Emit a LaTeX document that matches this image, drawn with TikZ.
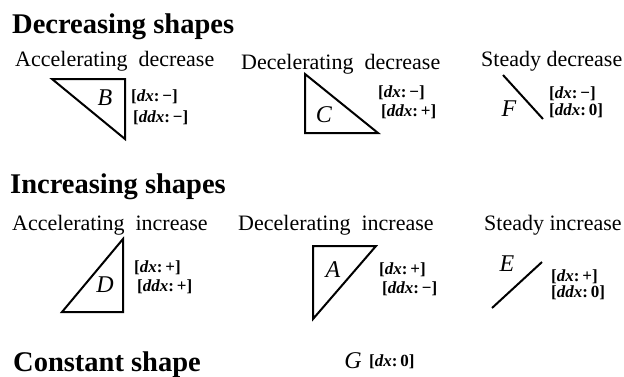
\documentclass[tikz,border=0pt]{standalone}
\usepackage{fontspec}
\setmainfont{Liberation Serif}
\usepackage{tikz}
\usetikzlibrary{positioning}

\newcommand{\dtag}[2]{\textbf{[\textit{#1}:\,#2]}}

\begin{document}
\begin{tikzpicture}[x=1pt, y=-1pt,
    heading/.style={anchor=base west, inner sep=0, font=\fontsize{28.5}{30}\selectfont\bfseries},
    subhead/.style={anchor=base west, inner sep=0, font=\fontsize{22}{24}\selectfont},
    letter/.style={inner sep=0, font=\fontsize{24}{26}\selectfont\itshape},
    tag/.style={anchor=west, inner sep=0, font=\fontsize{17}{19}\selectfont},
    outline/.style={line width=2pt, line join=miter}]
    \useasboundingbox (0,0) rectangle (624,376);

    % Decreasing shapes
    \node[heading] (dectitle) at (12, 33) {Decreasing shapes};
    \node[subhead] (accdec) at (15, 66) {Accelerating\ \ decrease};
    \node[subhead] (decdec) at (241, 69) {Decelerating\ \ decrease};
    \node[subhead] (stdec) at (481, 66) {Steady\ decrease};

    % B: accelerating decrease
    \draw[outline] (52, 79) -- (125, 79) -- (125, 139) -- cycle;
    \node[letter] (B) at (105, 98) {B};
    \node[tag] (Bdx) at (131, 97) {\dtag{dx}{−}};
    \node[tag] (Bddx) at (133, 118) {\dtag{ddx}{−}};

    % C: decelerating decrease
    \draw[outline] (305, 74) -- (378, 133) -- (305, 133) -- cycle;
    \node[letter] (C) at (324, 115) {C};
    \node[tag] (Cdx) at (378, 93) {\dtag{dx}{−}};
    \node[tag] (Cddx) at (381, 112) {\dtag{ddx}{+}};

    % F: steady decrease
    \draw[outline] (503, 75) -- (543, 119);
    \node[letter] (F) at (509, 109) {F};
    \node[tag] (Fdx) at (549, 94) {\dtag{dx}{−}};
    \node[tag] (Fddx) at (549, 111) {\dtag{ddx}{0}};

    % Increasing shapes
    \node[heading] (inctitle) at (10, 193) {Increasing shapes};
    \node[subhead] (accinc) at (12, 230) {Accelerating\ \ increase};
    \node[subhead] (decinc) at (238, 230) {Decelerating\ \ increase};
    \node[subhead] (stinc) at (484, 230) {Steady\ increase};

    % D: accelerating increase
    \draw[outline] (62, 312) -- (123, 312) -- (123, 239) -- cycle;
    \node[letter] (D) at (105, 285) {D};
    \node[tag] (Ddx) at (134, 268) {\dtag{dx}{+}};
    \node[tag] (Dddx) at (137, 287) {\dtag{ddx}{+}};

    % A: decelerating increase
    \draw[outline] (313, 246) -- (376, 246) -- (313, 319) -- cycle;
    \node[letter] (A) at (333, 270) {A};
    \node[tag] (Adx) at (379, 270) {\dtag{dx}{+}};
    \node[tag] (Addx) at (382, 289) {\dtag{ddx}{−}};

    % E: steady increase
    \draw[outline] (492, 308) -- (542, 262);
    \node[letter] (E) at (507, 264) {E};
    \node[tag] (Edx) at (551, 277) {\dtag{dx}{+}};
    \node[tag] (Eddx) at (551, 293) {\dtag{ddx}{0}};

    % Constant shape
    \node[heading] (consttitle) at (13, 371) {Constant shape};
    \node[letter] (G) at (353, 361) {G};
    \node[tag] (Gdx) at (369, 362) {\dtag{dx}{0}};
\end{tikzpicture}
\end{document}
